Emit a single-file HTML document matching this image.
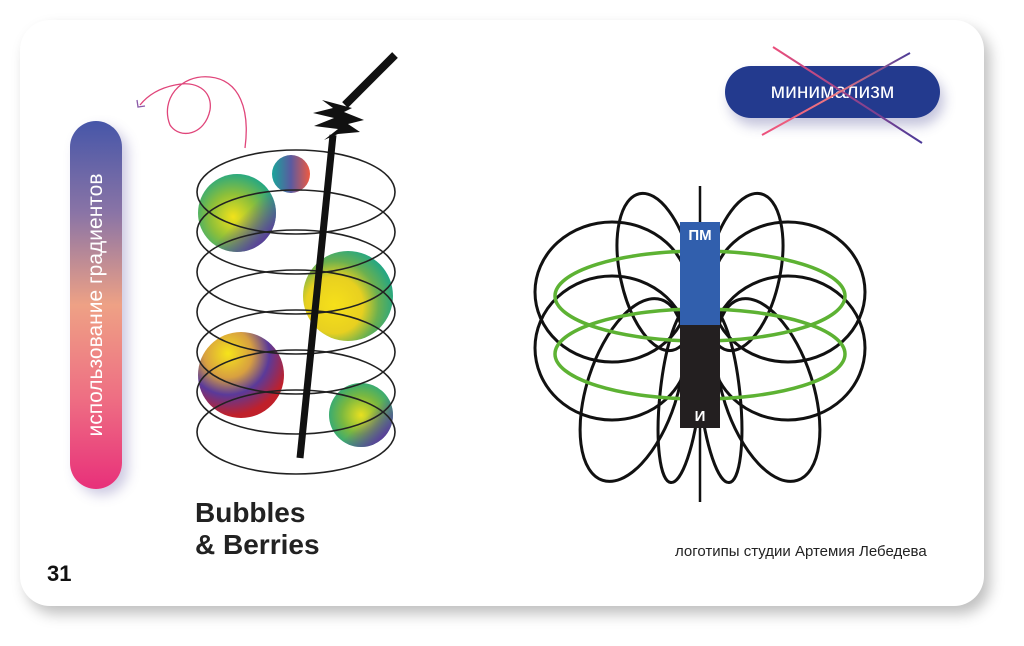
<!DOCTYPE html>
<html><head><meta charset="utf-8"><style>
html,body{margin:0;padding:0;width:1024px;height:646px;overflow:hidden;background:#fff;font-family:"Liberation Sans","DejaVu Sans",sans-serif}
.card{position:absolute;left:20px;top:20px;width:964px;height:586px;border-radius:30px;background:#fff;box-shadow:6px 8px 14px rgba(0,0,0,0.25)}
.vpill{position:absolute;left:70px;top:121px;width:52px;height:368px;border-radius:26px;background:linear-gradient(180deg,#4656a8 0%,#8a74a6 25%,#eea185 50%,#ee6f83 75%,#e8307a 100%);box-shadow:6px 6px 12px rgba(90,80,160,0.3)}
.vtext{position:absolute;left:96px;top:305px;transform:translate(-50%,-50%) rotate(-90deg);color:#fff;font-size:21px;white-space:nowrap}
.pill{position:absolute;left:725px;top:66px;width:215px;height:52px;border-radius:26px;background:#233a8e;color:#fff;font-size:21px;line-height:52px;text-align:center;box-shadow:4px 8px 12px rgba(60,60,140,0.3)}
</style></head><body>
<div class="card"></div>
<div class="vpill"></div>
<div class="vtext">использование градиентов</div>
<div class="pill">минимализм</div>
<svg width="1024" height="646" style="position:absolute;left:0;top:0">
<defs>
<linearGradient id="x1" x1="0" y1="0" x2="1" y2="1"><stop offset="0" stop-color="#ec4f7c"/><stop offset="1" stop-color="#4a3a98"/></linearGradient>
<linearGradient id="x2" x1="1" y1="0" x2="0" y2="1"><stop offset="0" stop-color="#4a3a98"/><stop offset="0.5" stop-color="#ee7a80"/><stop offset="1" stop-color="#ec4f7c"/></linearGradient>
<radialGradient id="b1" cx="0.45" cy="0.55" r="0.6"><stop offset="0" stop-color="#f2e21a"/><stop offset="0.5" stop-color="#8cbf3a"/><stop offset="1" stop-color="#1aa58a"/></radialGradient>
<linearGradient id="b1b" x1="0" y1="0" x2="1" y2="1"><stop offset="0.55" stop-color="#5b3f9a" stop-opacity="0"/><stop offset="0.85" stop-color="#5b3f9a"/></linearGradient>
<linearGradient id="b2" x1="0" y1="0.5" x2="1" y2="0.5"><stop offset="0" stop-color="#1aa59a"/><stop offset="0.5" stop-color="#5a5aa0"/><stop offset="1" stop-color="#f05a40"/></linearGradient>
<radialGradient id="b3" cx="0.35" cy="0.6" r="0.7"><stop offset="0" stop-color="#f6e01a"/><stop offset="0.45" stop-color="#e8d020"/><stop offset="0.7" stop-color="#6ab050"/><stop offset="1" stop-color="#1aa58a"/></radialGradient>
<radialGradient id="b4" cx="0.35" cy="0.25" r="0.8"><stop offset="0" stop-color="#f6e41a"/><stop offset="0.35" stop-color="#d8a040"/><stop offset="0.6" stop-color="#5a3a9a"/><stop offset="0.9" stop-color="#c0202a"/></radialGradient>
<radialGradient id="b5" cx="0.5" cy="0.5" r="0.6"><stop offset="0" stop-color="#e8e020"/><stop offset="0.5" stop-color="#7ab840"/><stop offset="1" stop-color="#1aa58a"/></radialGradient>
</defs>
<line x1="773" y1="47" x2="922" y2="143" stroke="url(#x1)" stroke-width="2"/>
<line x1="910" y1="53" x2="762" y2="135" stroke="url(#x2)" stroke-width="2"/>
<path d="M245,148 C250,110 240,80 210,77 C180,74 160,100 170,125 C180,140 205,135 210,110 C213,90 195,80 175,85 C160,88 148,95 140,105" fill="none" stroke="#e0457a" stroke-width="1.3"/>
<path d="M137,100 L138,107 L145,106" fill="none" stroke="#8a5aa8" stroke-width="1.3"/>
<circle cx="237" cy="213" r="39" fill="url(#b1)"/><circle cx="237" cy="213" r="39" fill="url(#b1b)"/>
<circle cx="291" cy="174" r="19" fill="url(#b2)"/>
<circle cx="348" cy="296" r="45" fill="url(#b3)"/>
<circle cx="241" cy="375" r="43" fill="url(#b4)"/>
<circle cx="361" cy="415" r="32" fill="url(#b5)"/><circle cx="361" cy="415" r="32" fill="url(#b1b)"/>
<g fill="none" stroke="#222" stroke-width="1.6">
<ellipse cx="296" cy="192" rx="99" ry="42"/><ellipse cx="296" cy="232" rx="99" ry="42"/>
<ellipse cx="296" cy="272" rx="99" ry="42"/><ellipse cx="296" cy="312" rx="99" ry="42"/>
<ellipse cx="296" cy="352" rx="99" ry="42"/><ellipse cx="296" cy="392" rx="99" ry="42"/>
<ellipse cx="296" cy="432" rx="99" ry="42"/>
</g>
<line x1="300" y1="458" x2="333" y2="135" stroke="#111" stroke-width="7"/>
<line x1="345" y1="105" x2="395" y2="55" stroke="#111" stroke-width="8"/>
<path d="M322,100 L352,108 L344,112 L364,120 L348,124 L360,132 L338,134 L324,140 L338,129 L314,126 L334,118 L313,113 L333,108 Z" fill="#111"/>
<line x1="700" y1="186" x2="700" y2="502" stroke="#111" stroke-width="2.5"/>
<g fill="none" stroke="#111" stroke-width="3">
<ellipse cx="612" cy="292" rx="77" ry="70"/><ellipse cx="788" cy="292" rx="77" ry="70"/>
<ellipse cx="656" cy="272" rx="36" ry="80" transform="rotate(-12 656 272)"/><ellipse cx="744" cy="272" rx="36" ry="80" transform="rotate(12 744 272)"/>
<ellipse cx="612" cy="348" rx="77" ry="72"/><ellipse cx="788" cy="348" rx="77" ry="72"/>
<ellipse cx="632" cy="390" rx="45" ry="95" transform="rotate(18 632 390)"/><ellipse cx="768" cy="390" rx="45" ry="95" transform="rotate(-18 768 390)"/>
<ellipse cx="680" cy="395" rx="20" ry="88" transform="rotate(6 680 395)"/><ellipse cx="720" cy="395" rx="20" ry="88" transform="rotate(-6 720 395)"/>
</g>
<g fill="none" stroke="#5db233" stroke-width="3.5">
<ellipse cx="700" cy="296" rx="145" ry="45"/><ellipse cx="700" cy="354" rx="145" ry="45"/>
</g>
<rect x="680" y="222" width="40" height="103" fill="#315fad"/>
<rect x="680" y="325" width="40" height="103" fill="#231f20"/>
<text x="700" y="240" fill="#fff" font-size="15" font-weight="bold" text-anchor="middle">ПМ</text>
<text x="700" y="421" fill="#fff" font-size="15" font-weight="bold" text-anchor="middle">И</text>
<text x="195" y="522" fill="#222" font-size="28" font-weight="bold">Bubbles</text>
<text x="195" y="554" fill="#222" font-size="28" font-weight="bold">&amp; Berries</text>
<text x="47" y="581" fill="#111" font-size="22" font-weight="bold">31</text>
<text x="675" y="556" fill="#222" font-size="15">логотипы студии Артемия Лебедева</text>
</svg>
</body></html>
